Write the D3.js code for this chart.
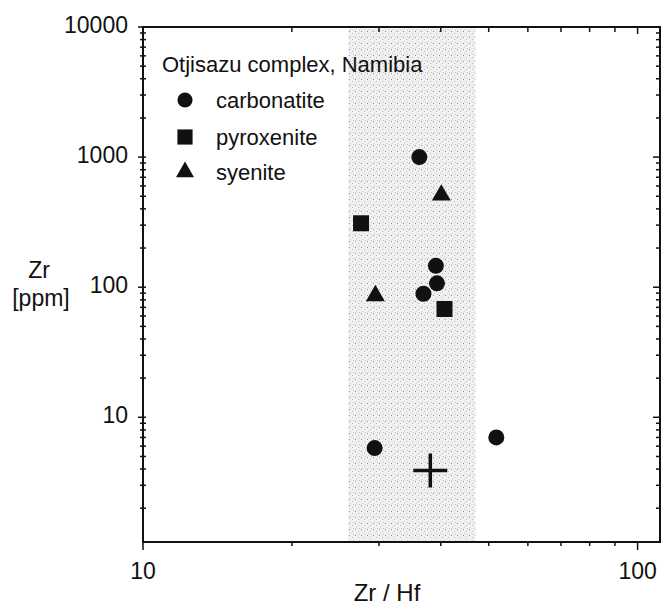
<!DOCTYPE html>
<html>
<head>
<meta charset="utf-8">
<script src="https://cdn.jsdelivr.net/npm/d3@7"></script>
<style>
  body { margin: 0; background: #fff; }
  svg text { font-family: "Liberation Sans", Arial, sans-serif; fill: #111; }
  .frame { fill: none; stroke: #111; stroke-width: 2px; }
  .tick-line { stroke: #111; stroke-width: 1.5px; }
</style>
</head>
<body>
<script>
// categories and values
const categories = ["carbonatite", "pyroxenite", "syenite"];
const carbonatiteZrHf = [36.2, 39.1, 39.3, 36.9, 29.4, 51.8];
const carbonatiteZr   = [1000, 146, 107, 89, 5.8, 7.0];
const pyroxeniteZrHf  = [27.6, 40.7];
const pyroxeniteZr    = [310, 68];
const syeniteZrHf     = [40.1, 29.5];
const syeniteZr       = [510, 86];
const crossZrHf = 38.1, crossZr = 3.9;       // the "+" marker
const bandZrHf = [26, 47];                   // shaded range
const xTicks = [10, 100];
const yTicks = [10, 100, 1000, 10000];
const legendTitle = "Otjisazu complex, Namibia";

const W = 664, H = 605;
const mLeft = 143, mRight = 660, mTop = 27, mBottom = 542;

const svg = d3.select("body").append("svg")
  .attr("width", W).attr("height", H);

const x = d3.scaleLog().domain([10, 111]).range([mLeft, mRight]);
const y = d3.scaleLog().domain([1.1, 10000]).range([mBottom, mTop]);

// stipple pattern for the band
const defs = svg.append("defs");
const pat = defs.append("pattern").attr("id", "stip")
  .attr("width", 6).attr("height", 6).attr("patternUnits", "userSpaceOnUse");
pat.append("rect").attr("width", 6).attr("height", 6).attr("fill", "#f1f1f1");
[[1, 1, "#8f8f8f"], [4, 3, "#b8b8b8"], [2, 5, "#d0d0d0"], [5, 0, "#c4c4c4"]].forEach(p =>
  pat.append("rect").attr("x", p[0]).attr("y", p[1]).attr("width", 1).attr("height", 1).attr("fill", p[2]));

svg.append("rect")
  .attr("x", x(bandZrHf[0])).attr("y", mTop)
  .attr("width", x(bandZrHf[1]) - x(bandZrHf[0]))
  .attr("height", mBottom - mTop)
  .attr("fill", "url(#stip)");

// tick positions
const xMinor = d3.range(20, 100, 10);
const yMinor = [];
[1, 10, 100, 1000].forEach(d => { for (let k = 2; k <= 9; k++) if (d * k > 1.1) yMinor.push(d * k); });

const g = svg.append("g");
function tick(x1, y1, x2, y2) {
  g.append("line").attr("class", "tick-line")
    .attr("x1", x1).attr("y1", y1).attr("x2", x2).attr("y2", y2);
}
// bottom (outward) and top (inward)
xTicks.forEach(v => { tick(x(v), mBottom, x(v), mBottom + 8); tick(x(v), mTop, x(v), mTop + 7); });
xMinor.forEach(v => { tick(x(v), mBottom, x(v), mBottom + 4); tick(x(v), mTop, x(v), mTop + 5); });
// left (crossing) and right (inward)
yTicks.forEach(v => { tick(mLeft - 5, y(v), mLeft + 3, y(v)); tick(mRight, y(v), mRight - 7, y(v)); });
yMinor.forEach(v => { tick(mLeft - 3, y(v), mLeft + 3, y(v)); tick(mRight, y(v), mRight - 4, y(v)); });

svg.append("rect").attr("class", "frame")
  .attr("x", mLeft).attr("y", mTop)
  .attr("width", mRight - mLeft).attr("height", mBottom - mTop);

// tick labels
svg.selectAll(".xlab").data(xTicks).join("text")
  .attr("class", "xlab")
  .attr("x", d => x(d)).attr("y", 579)
  .attr("text-anchor", "middle").attr("font-size", 23)
  .text(d => d);
svg.selectAll(".ylab").data(yTicks).join("text")
  .attr("class", "ylab")
  .attr("x", mLeft - 15).attr("y", d => y(d) + 6)
  .attr("text-anchor", "end").attr("font-size", 23)
  .text(d => d);

// axis titles
svg.append("text").attr("x", 387).attr("y", 601).attr("text-anchor", "middle")
  .attr("font-size", 24).text("Zr / Hf");
svg.append("text").attr("x", 39).attr("y", 278).attr("text-anchor", "middle")
  .attr("font-size", 23).text("Zr");
svg.append("text").attr("x", 41).attr("y", 306).attr("text-anchor", "middle")
  .attr("font-size", 23).text("[ppm]");

// markers
const shapeType = { carbonatite: d3.symbolCircle, pyroxenite: d3.symbolSquare, syenite: d3.symbolTriangle };
const shapeSize = { carbonatite: Math.PI * 64, pyroxenite: 256, syenite: 156 };
const series = [
  { name: "carbonatite", xs: carbonatiteZrHf, ys: carbonatiteZr },
  { name: "pyroxenite", xs: pyroxeniteZrHf, ys: pyroxeniteZr },
  { name: "syenite", xs: syeniteZrHf, ys: syeniteZr }
];
series.forEach(s => {
  svg.append("g").selectAll("path")
    .data(s.xs.map((v, i) => [v, s.ys[i]]))
    .join("path")
    .attr("d", d3.symbol().type(shapeType[s.name]).size(shapeSize[s.name])())
    .attr("transform", d => `translate(${x(d[0])},${y(d[1])})`)
    .attr("fill", "#111");
});

// cross
const cx = x(crossZrHf), cy = y(crossZr);
svg.append("path")
  .attr("d", `M${cx - 17},${cy}H${cx + 17}M${cx},${cy - 17}V${cy + 17}`)
  .attr("stroke", "#111").attr("stroke-width", 3.5).attr("fill", "none");

// legend
svg.append("text").attr("x", 162).attr("y", 72).attr("font-size", 22).text(legendTitle);
const legRows = [100, 137, 172];
categories.forEach((c, i) => {
  svg.append("path")
    .attr("d", d3.symbol().type(shapeType[c]).size(shapeSize[c] * 0.9)())
    .attr("transform", `translate(185,${legRows[i]})`)
    .attr("fill", "#111");
  svg.append("text").attr("x", 216).attr("y", legRows[i] + 8)
    .attr("font-size", 22).text(c);
});
</script>
</body>
</html>
